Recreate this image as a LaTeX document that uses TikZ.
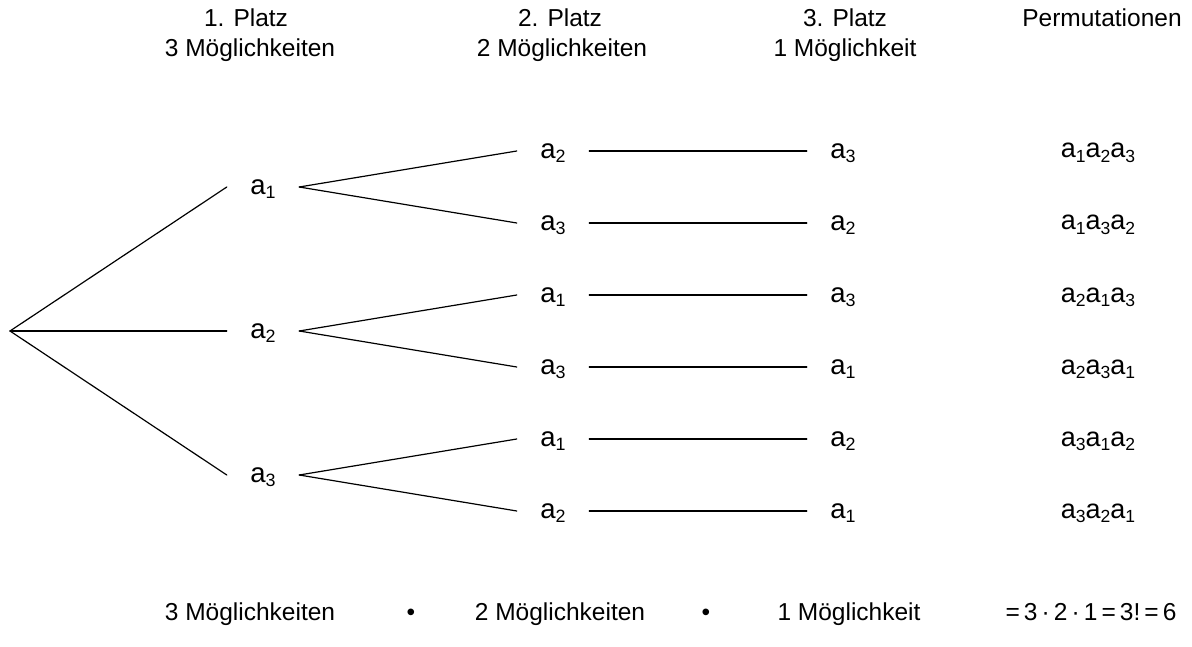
\documentclass[tikz,border=0pt]{standalone}
\usepackage{fontspec}
\usepackage{graphicx}
\setmainfont{Liberation Sans}
\newcommand{\sa}[1]{a\raisebox{-0.15em}{\scalebox{0.65}{#1}}}
\tikzset{
  hdr/.style={font=\fontsize{24.5}{28}\selectfont, anchor=base, inner sep=0pt},
  lab/.style={font=\fontsize{27.5}{28}\selectfont, anchor=center, inner sep=0pt,
              minimum width=72pt, text height=14.5pt, text depth=0pt},
  perm/.style={font=\fontsize{27}{27}\selectfont, anchor=base, inner sep=0pt},
  edge/.style={line width=1.2pt, line cap=round}
}
\begin{document}
\begin{tikzpicture}[x=1pt,y=-1pt]
\useasboundingbox (0,0) rectangle (1192,647);
% headers
\node[hdr] (h1a) at (246,27) {1. Platz};
\node[hdr] (h1b) at (250,57) {3 Möglichkeiten};
\node[hdr] (h2a) at (560,27) {2. Platz};
\node[hdr] (h2b) at (562,57) {2 Möglichkeiten};
\node[hdr] (h3a) at (845,27) {3. Platz};
\node[hdr] (h3b) at (845,57) {1 Möglichkeit};
\node[hdr] (hp) at (1102,27) {Permutationen};
% tree
\coordinate (root) at (10,331);
\node[lab] (l1a) at (263,187) {\sa{1}};
\node[lab] (l1b) at (263,331) {\sa{2}};
\node[lab] (l1c) at (263,475) {\sa{3}};
\node[lab] (l2a) at (553,151) {\sa{2}};
\node[lab] (l2b) at (553,223) {\sa{3}};
\node[lab] (l2c) at (553,295) {\sa{1}};
\node[lab] (l2d) at (553,367) {\sa{3}};
\node[lab] (l2e) at (553,439) {\sa{1}};
\node[lab] (l2f) at (553,511) {\sa{2}};
\node[lab] (l3a) at (843,151) {\sa{3}};
\node[lab] (l3b) at (843,223) {\sa{2}};
\node[lab] (l3c) at (843,295) {\sa{3}};
\node[lab] (l3d) at (843,367) {\sa{1}};
\node[lab] (l3e) at (843,439) {\sa{2}};
\node[lab] (l3f) at (843,511) {\sa{1}};
\draw[edge] (root) -- (l1a.west);
\draw[edge] (root) -- (l1b.west);
\draw[edge] (root) -- (l1c.west);
\draw[edge] (l1a.east) -- (l2a.west);
\draw[edge] (l1a.east) -- (l2b.west);
\draw[edge] (l1b.east) -- (l2c.west);
\draw[edge] (l1b.east) -- (l2d.west);
\draw[edge] (l1c.east) -- (l2e.west);
\draw[edge] (l1c.east) -- (l2f.west);
\draw[edge] (l2a.east) -- (l3a.west);
\draw[edge] (l2b.east) -- (l3b.west);
\draw[edge] (l2c.east) -- (l3c.west);
\draw[edge] (l2d.east) -- (l3d.west);
\draw[edge] (l2e.east) -- (l3e.west);
\draw[edge] (l2f.east) -- (l3f.west);
% permutations
\node[perm] (p1) at (1098,158) {\sa{1}\sa{2}\sa{3}};
\node[perm] (p2) at (1098,230) {\sa{1}\sa{3}\sa{2}};
\node[perm] (p3) at (1098,302) {\sa{2}\sa{1}\sa{3}};
\node[perm] (p4) at (1098,374) {\sa{2}\sa{3}\sa{1}};
\node[perm] (p5) at (1098,446) {\sa{3}\sa{1}\sa{2}};
\node[perm] (p6) at (1098,518) {\sa{3}\sa{2}\sa{1}};
% bottom row
\node[hdr] (b1) at (250,620) {3 Möglichkeiten};
\node[hdr] (d1) at (411,620) {•};
\node[hdr] (b2) at (560,620) {2 Möglichkeiten};
\node[hdr] (d2) at (706,620) {•};
\node[hdr] (b3) at (849,620) {1 Möglichkeit};
\node[hdr] (eq) at (1091,620) {=\,3\,·\,2\,·\,1\,=\,3!\,=\,6};
\end{tikzpicture}
\end{document}
